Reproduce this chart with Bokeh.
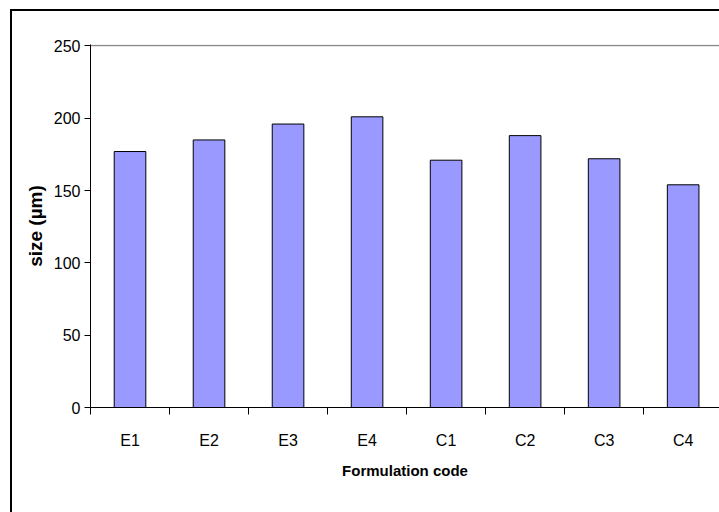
from bokeh.plotting import figure
from bokeh.models import Range1d, FixedTicker
from bokeh.embed import file_html
from bokeh.resources import INLINE

categories = ["E1", "E2", "E3", "E4", "C1", "C2", "C3", "C4"]
sizes = [177, 185, 196, 201, 171, 188, 172, 154]
y_ticks = [0, 50, 100, 150, 200, 250]

FONT = "Liberation Sans, Arial, sans-serif"

frame_css = {
    "background": ("linear-gradient(#000, #000) 10px 9px / 2px 600px no-repeat, "
                   "linear-gradient(#000, #000) 10px 9px / 800px 2px no-repeat, #ffffff"),
}

p = figure(width=719, height=512, output_backend="svg", toolbar_location=None,
           x_range=Range1d(0, 7.96), y_range=Range1d(0, 251),
           min_border_left=90, min_border_top=44, min_border_right=0,
           min_border_bottom=105, styles=frame_css)
p.outline_line_color = None
p.background_fill_color = "white"
p.border_fill_color = None
p.border_fill_alpha = 0

xs = [i + 0.5 for i in range(len(categories))]
p.vbar(x=xs, top=sizes, width=0.4, bottom=0, fill_color="#9999FF",
       line_color="black", line_width=1)

p.xgrid.visible = False
p.ygrid.ticker = FixedTicker(ticks=[250])
p.ygrid.grid_line_color = "#8c8c8c"
p.ygrid.grid_line_width = 1.5

xa = p.xaxis[0]
xa.ticker = FixedTicker(ticks=xs, minor_ticks=list(range(len(categories) + 1)))
xa.major_label_overrides = {x: c for x, c in zip(xs, categories)}
xa.major_tick_out = 0
xa.major_tick_in = 0
xa.minor_tick_out = 7
xa.minor_tick_in = 0
xa.minor_tick_line_color = "black"
xa.axis_line_color = "black"
xa.major_label_text_font = FONT
xa.major_label_text_font_size = "16px"
xa.major_label_text_color = "black"
xa.major_label_standoff = 17
xa.axis_label = "Formulation code"
xa.axis_label_text_font = FONT
xa.axis_label_text_font_style = "bold"
xa.axis_label_text_font_size = "15px"
xa.axis_label_text_color = "black"
xa.axis_label_standoff = 10

ya = p.yaxis[0]
ya.ticker = FixedTicker(ticks=y_ticks)
ya.major_tick_out = 6
ya.major_tick_in = 0
ya.minor_tick_out = 0
ya.minor_tick_in = 0
ya.axis_line_color = "black"
ya.major_label_text_font = FONT
ya.major_label_text_font_size = "16px"
ya.major_label_text_color = "black"
ya.major_label_standoff = 4
ya.axis_label = "size (µm)"
ya.axis_label_text_font = FONT
ya.axis_label_text_font_style = "bold"
ya.axis_label_text_font_size = "19px"
ya.axis_label_text_color = "black"
ya.axis_label_standoff = 5

open("out.html", "w").write(file_html(p, INLINE))
